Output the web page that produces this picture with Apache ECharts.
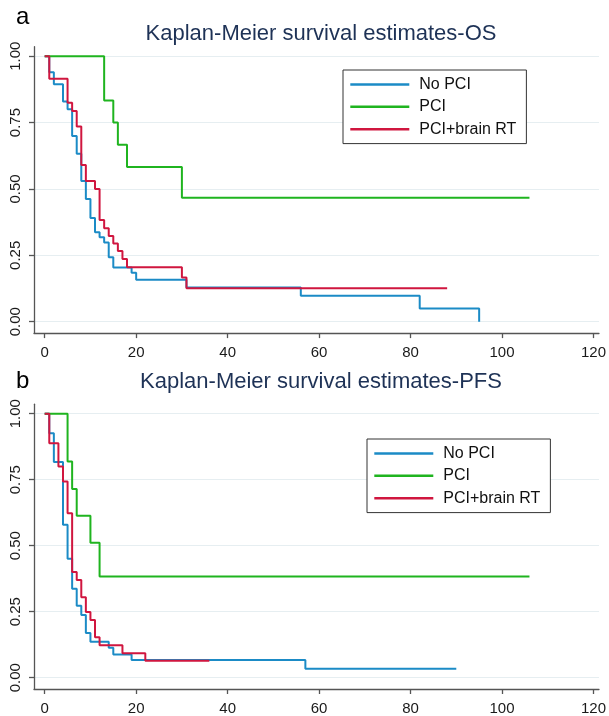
<!DOCTYPE html>
<html>
<head>
<meta charset="utf-8">
<script src="https://cdn.jsdelivr.net/npm/echarts@6/dist/echarts.min.js"></script>
<style>
html,body{margin:0;padding:0;background:#fff;}
#c{width:609px;height:716px;}
</style>
</head>
<body>
<div id="c"></div>
<script>
// ---- data ----
const groupNames = ['No PCI', 'PCI', 'PCI+brain RT'];
const xTicks = [0, 20, 40, 60, 80, 100, 120];
const yTicks = [0, 0.25, 0.5, 0.75, 1];
const titleOS = 'Kaplan-Meier survival estimates-OS';
const titlePFS = 'Kaplan-Meier survival estimates-PFS';
const panelA = 'a';
const panelB = 'b';

// OS
const osNoPciTime = [0, 1, 2, 4, 5, 6, 7, 8, 9, 10, 11, 12, 13, 14, 15, 19, 20, 31, 56, 82, 95];
const osNoPciSurv = [1, 0.94, 0.895, 0.83, 0.80, 0.70, 0.633, 0.53, 0.462, 0.391, 0.337, 0.318, 0.298, 0.243, 0.204, 0.184, 0.158, 0.129, 0.098, 0.050, 0];
const osPciTime = [0, 13, 15, 16, 18, 30, 106];
const osPciSurv = [1, 0.833, 0.75, 0.667, 0.583, 0.467, 0.467];
const osBrainTime = [0, 1, 5, 6, 7, 8, 9, 11, 12, 13, 14, 15, 16, 17, 18, 30, 31, 88];
const osBrainSurv = [1, 0.915, 0.825, 0.794, 0.735, 0.59, 0.53, 0.50, 0.383, 0.352, 0.323, 0.295, 0.266, 0.236, 0.205, 0.166, 0.126, 0.126];

// PFS
const pfsNoPciTime = [0, 1, 2, 4, 5, 6, 7, 8, 9, 10, 14, 15, 19, 57, 90];
const pfsNoPciSurv = [1, 0.926, 0.817, 0.579, 0.45, 0.337, 0.272, 0.237, 0.169, 0.136, 0.113, 0.088, 0.067, 0.034, 0.034];
const pfsPciTime = [0, 5, 6, 7, 10, 12, 106];
const pfsPciSurv = [1, 0.819, 0.715, 0.613, 0.511, 0.383, 0.383];
const pfsBrainTime = [0, 1, 3, 4, 5, 6, 7, 8, 9, 10, 11, 12, 17, 22, 36];
const pfsBrainSurv = [1, 0.888, 0.80, 0.743, 0.623, 0.40, 0.37, 0.305, 0.249, 0.218, 0.153, 0.123, 0.092, 0.064, 0.064];

// ---- styling ----
const colors = ['#1b8bc6', '#1fb41f', '#d0163f'];
const FONT = 'Liberation Sans, Arial, sans-serif';
const axisColor = '#555';
const gridColor = '#e6eef1';

function pairs(t, s) { return t.map((v, i) => [v, s[i]]); }

const X_MIN = -2.34, X_MAX = 121.2, Y_MIN = -0.043, Y_MAX = 1.036;

function xAxisDef(gi) {
  return {
    type: 'value', gridIndex: gi, min: X_MIN, max: X_MAX,
    axisLine: { show: true, onZero: false, lineStyle: { color: axisColor, width: 1.3 } },
    axisTick: { show: true, length: 5, customValues: xTicks, lineStyle: { color: axisColor, width: 1.3 } },
    axisLabel: { customValues: xTicks, margin: 12, fontSize: 15, fontFamily: FONT, color: '#1a1a1a', showMinLabel: true, showMaxLabel: true },
    splitLine: { show: false }
  };
}
function yAxisDef(gi) {
  return {
    type: 'value', gridIndex: gi, min: Y_MIN, max: Y_MAX,
    axisLine: { show: true, onZero: false, lineStyle: { color: axisColor, width: 1.3 } },
    axisTick: { show: true, length: 5, customValues: yTicks, lineStyle: { color: axisColor, width: 1.3 } },
    axisLabel: { customValues: yTicks, rotate: 90, margin: 11, fontSize: 15, fontFamily: FONT, color: '#1a1a1a',
                 formatter: v => v.toFixed(2), showMinLabel: true, showMaxLabel: true },
    splitLine: { show: true, lineStyle: { color: gridColor, width: 1.2 } }
  };
}
function lineSeries(name, data, gi, ci) {
  return {
    type: 'line', name: name, data: data, step: 'end', xAxisIndex: gi, yAxisIndex: gi,
    showSymbol: false, symbol: 'none', color: colors[ci],
    lineStyle: { color: colors[ci], width: 2 }, silent: true, animation: false, z: 3 + ci
  };
}
function legendDef(left, top) {
  return {
    orient: 'vertical', left: left, top: top, data: groupNames,
    icon: 'rect', itemWidth: 59, itemHeight: 2.5, itemGap: 6.4,
    padding: [6.4, 10, 6.4, 7.3],
    borderColor: '#333', borderWidth: 1, backgroundColor: '#fff',
    selectedMode: false,
    textStyle: { fontFamily: FONT, fontSize: 16, color: '#111', padding: [0, 0, 0, 5], lineHeight: 16 }
  };
}

const option = {
  backgroundColor: '#fff',
  animation: false,
  title: [
    { text: titleOS, left: 316, top: 18, textAlign: 'center', textStyle: { fontFamily: FONT, fontSize: 22, fontWeight: 'normal', color: '#1e3256' } },
    { text: titlePFS, left: 316, top: 366, textAlign: 'center', textStyle: { fontFamily: FONT, fontSize: 22, fontWeight: 'normal', color: '#1e3256' } },
    { text: panelA, left: 11, top: 0, textStyle: { fontFamily: FONT, fontSize: 24, fontWeight: 'normal', color: '#000' } },
    { text: panelB, left: 11, top: 364, textStyle: { fontFamily: FONT, fontSize: 24, fontWeight: 'normal', color: '#000' } }
  ],
  legend: [legendDef(343, 70), legendDef(367, 439)],
  grid: [
    { left: 34, right: 9.8, top: 46.7, height: 286.4 },
    { left: 34, right: 9.8, top: 404.2, height: 285.9 }
  ],
  xAxis: [xAxisDef(0), xAxisDef(1)],
  yAxis: [yAxisDef(0), yAxisDef(1)],
  series: [
    lineSeries(groupNames[0], pairs(osNoPciTime, osNoPciSurv), 0, 0),
    lineSeries(groupNames[1], pairs(osPciTime, osPciSurv), 0, 1),
    lineSeries(groupNames[2], pairs(osBrainTime, osBrainSurv), 0, 2),
    lineSeries(groupNames[0], pairs(pfsNoPciTime, pfsNoPciSurv), 1, 0),
    lineSeries(groupNames[1], pairs(pfsPciTime, pfsPciSurv), 1, 1),
    lineSeries(groupNames[2], pairs(pfsBrainTime, pfsBrainSurv), 1, 2)
  ]
};

const chart = echarts.init(document.getElementById('c'), null, { renderer: 'canvas' });
chart.setOption(option);
</script>
</body>
</html>
